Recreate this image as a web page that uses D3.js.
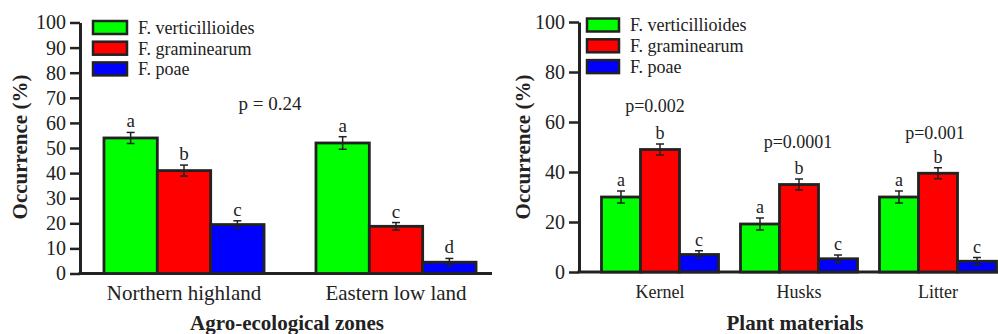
<!DOCTYPE html>
<html><head><meta charset="utf-8">
<script src="https://cdn.jsdelivr.net/npm/d3@7"></script>
<style>body{margin:0;background:#fff}svg{display:block}</style>
</head><body>
<svg id="c" width="998" height="334" font-family="Liberation Serif"></svg>
<script>
// ---- data ----
const series = ["F. verticillioides", "F. graminearum", "F. poae"];
const colors = ["#00ff00", "#ff0000", "#0000ff"];

const zones = ["Northern highland", "Eastern low land"];
const zoneValues = [[54, 41, 19.5], [52, 18.8, 4.5]];
const zoneErrors = [[2.2, 2.2, 1.5], [2.5, 1.5, 1.5]];
const zoneLetters = [["a", "b", "c"], ["a", "c", "d"]];
const zoneP = ["p = 0.24"];
const zoneTicks = [0, 10, 20, 30, 40, 50, 60, 70, 80, 90, 100];

const materials = ["Kernel", "Husks", "Litter"];
const matValues = [[30, 49, 7], [19.2, 35, 5.3], [30, 39.5, 4.3]];
const matErrors = [[2.4, 2.2, 1.5], [2.4, 2.2, 1.5], [2.4, 2.2, 1.5]];
const matLetters = [["a", "b", "c"], ["a", "b", "c"], ["a", "b", "c"]];
const matP = ["p=0.002", "p=0.0001", "p=0.001"];
const matTicks = [0, 20, 40, 60, 80, 100];

const svg = d3.select("#c");
const dark = "#222";

function txt(sel) { return sel.style("font-family", '"Liberation Serif"').attr("font-family", "Liberation Serif").attr("fill", dark); }

function panel(o) {
  const g = svg.append("g");
  const y = d3.scaleLinear().domain([0, 100]).range([o.y0, o.y1]);
  const x = d3.scaleBand().domain(o.cats).range(o.xr).paddingInner(o.pad).paddingOuter(o.pad / 2);
  const xi = d3.scaleBand().domain(series).range([0, x.bandwidth()]);

  // y axis
  const ax = g.append("g").attr("transform", `translate(${o.ax},0)`)
    .call(d3.axisLeft(y).tickValues(o.ticks).tickSize(10).tickSizeOuter(0).tickPadding(4));
  ax.attr("font-family", "Liberation Serif").attr("font-size", 20);
  ax.select(".domain").attr("stroke", dark).attr("stroke-width", 3);
  ax.selectAll(".tick line").attr("stroke", dark).attr("stroke-width", 2.5);
  txt(ax.selectAll(".tick text")).style("font-size", "20px");

  // x axis baseline
  g.append("line").attr("x1", o.ax - 1.5).attr("x2", o.xEnd).attr("y1", y(0)).attr("y2", y(0))
    .attr("stroke", dark).attr("stroke-width", 3);

  // bars
  o.cats.forEach((c, ci) => {
    series.forEach((s, si) => {
      const v = o.values[ci][si], e = o.errors[ci][si];
      const bx = x(c) + xi(s);
      g.append("rect").attr("x", bx).attr("y", y(v)).attr("width", xi.bandwidth()).attr("height", y(0) - y(v))
        .attr("fill", colors[si]).attr("stroke", dark).attr("stroke-width", 2.8);
      const cx = bx + xi.bandwidth() / 2;
      const eg = g.append("g").attr("stroke", dark).attr("stroke-width", 1.5);
      eg.append("line").attr("x1", cx).attr("x2", cx).attr("y1", y(v + e)).attr("y2", y(v - e));
      eg.append("line").attr("x1", cx - 4).attr("x2", cx + 4).attr("y1", y(v + e)).attr("y2", y(v + e));
      eg.append("line").attr("x1", cx - 4).attr("x2", cx + 4).attr("y1", y(v - e)).attr("y2", y(v - e));
      txt(g.append("text")).attr("x", cx).attr("y", y(v + e) - 5).attr("text-anchor", "middle")
        .style("font-size", o.fs + "px").text(o.letters[ci][si]);
    });
    txt(g.append("text")).attr("x", x(c) + x.bandwidth() / 2).attr("y", o.catY).attr("text-anchor", "middle")
      .style("font-size", o.catFs + "px").text(c);
  });

  // p labels
  o.p.forEach((p, i) => {
    txt(g.append("text")).attr("x", o.pPos[i][0]).attr("y", o.pPos[i][1]).attr("text-anchor", "middle")
      .style("font-size", o.fs + "px").text(p);
  });

  // legend
  series.forEach((s, i) => {
    const ly = o.leg[1] + i * o.legStep;
    g.append("rect").attr("x", o.leg[0]).attr("y", ly).attr("width", o.legW).attr("height", 13)
      .attr("fill", colors[i]).attr("stroke", dark).attr("stroke-width", 2.5);
    txt(g.append("text")).attr("x", o.leg[0] + o.legW + 11).attr("y", ly + 6.5).attr("dy", "0.35em")
      .style("font-size", "18px").text(s);
  });

  // titles
  txt(g.append("text")).attr("transform", `translate(${o.ytX},147) rotate(-90)`).attr("text-anchor", "middle")
    .attr("dy", "0.35em").style("font-size", "21px").style("font-weight", "bold").text("Occurrence (%)");
  txt(g.append("text")).attr("x", o.xtX).attr("y", 330).attr("text-anchor", "middle")
    .style("font-size", "21px").style("font-weight", "bold").text(o.xTitle);
}

panel({
  cats: zones, values: zoneValues, errors: zoneErrors, letters: zoneLetters, ticks: zoneTicks,
  y0: 273.5, y1: 22.5, xr: [78, 502], pad: 0.245, ax: 80, xEnd: 492,
  fs: 19, catFs: 21, catY: 300, p: zoneP, pPos: [[270, 110]],
  leg: [93, 21], legStep: 20.7, legW: 34, ytX: 20, xtX: 287, xTitle: "Agro-ecological zones"
});
panel({
  cats: materials, values: matValues, errors: matErrors, letters: matLetters, ticks: matTicks,
  y0: 272, y1: 22, xr: [590.5, 1007.5], pad: 0.158, ax: 579, xEnd: 998,
  fs: 18, catFs: 18, catY: 298, p: matP, pPos: [[655, 112], [798, 148], [935, 139]],
  leg: [587, 18.5], legStep: 20.8, legW: 32, ytX: 523, xtX: 795, xTitle: "Plant materials"
});
</script>
</body></html>
